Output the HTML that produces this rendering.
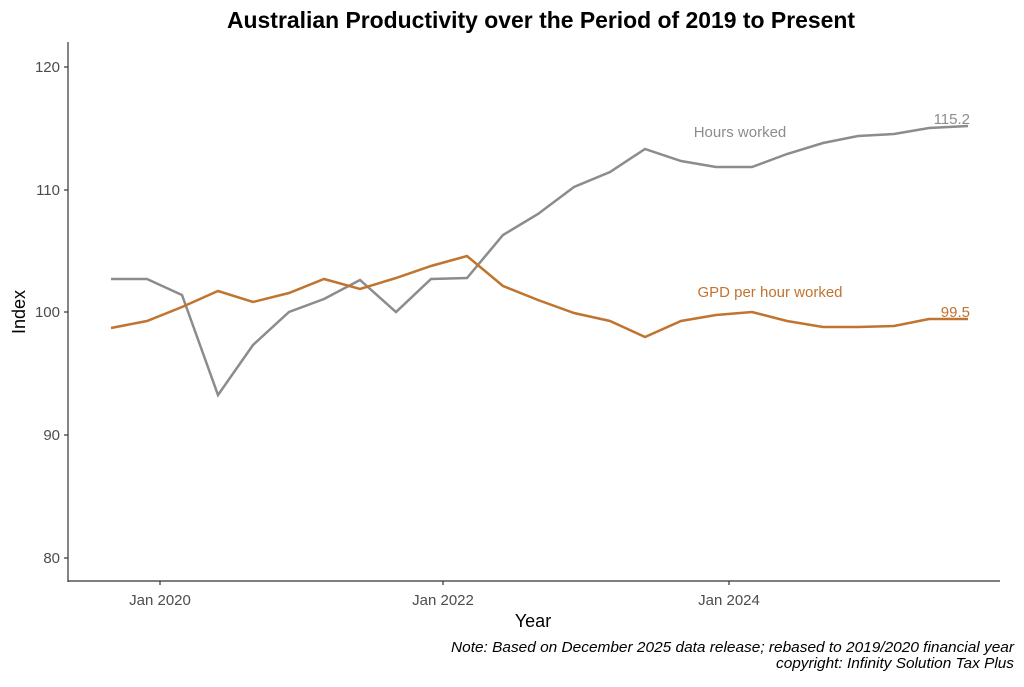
<!DOCTYPE html><html><head><style>body{margin:0;background:#fff}svg{font-family:"Liberation Sans",sans-serif}</style></head><body>
<svg width="1024" height="682" xmlns="http://www.w3.org/2000/svg">
<rect width="1024" height="682" fill="#fff"/>
<text x="541" y="28" text-anchor="middle" font-size="23" font-weight="bold" textLength="628" lengthAdjust="spacingAndGlyphs">Australian Productivity over the Period of 2019 to Present</text>
<line x1="68" y1="42" x2="68" y2="582" stroke="#333" stroke-width="1.2"/>
<line x1="67.5" y1="581" x2="1000" y2="581" stroke="#333" stroke-width="1.2"/>
<g stroke="#333" stroke-width="1.2">
<line x1="64" y1="67" x2="68" y2="67"/><line x1="64" y1="190" x2="68" y2="190"/><line x1="64" y1="312" x2="68" y2="312"/><line x1="64" y1="435" x2="68" y2="435"/><line x1="64" y1="558" x2="68" y2="558"/>
<line x1="160" y1="581" x2="160" y2="585"/><line x1="443" y1="581" x2="443" y2="585"/><line x1="729" y1="581" x2="729" y2="585"/>
</g>
<g font-size="15" fill="#4d4d4d" text-anchor="end">
<text x="60" y="72">120</text><text x="60" y="195">110</text><text x="60" y="317">100</text><text x="60" y="440">90</text><text x="60" y="563">80</text>
</g>
<g font-size="15" fill="#4d4d4d" text-anchor="middle">
<text x="160" y="605">Jan 2020</text><text x="443" y="605">Jan 2022</text><text x="729" y="605">Jan 2024</text>
</g>
<text x="533" y="627" text-anchor="middle" font-size="18">Year</text>
<text transform="translate(25,312) rotate(-90)" text-anchor="middle" font-size="18">Index</text>
<polyline fill="none" stroke="#8c8c8c" stroke-width="2.5" points="111,279 147,279 182,295 218,395 253,345 289,312 324,299 360,280 396,312 431,279 467,278 503,235 538,214 574,187 610,172 645,149 681,161 716,167 752,167 787,154 823,143 858,136 894,134 929,128 968,126"/>
<polyline fill="none" stroke="#c07430" stroke-width="2.5" points="111,328 147,321 182,307 218,291 253,302 289,293 324,279 360,289 396,278 431,266 467,256 503,286 538,300 574,313 610,321 645,337 681,321 716,315 752,312 787,321 823,327 858,327 894,326 929,319 968,319"/>
<text x="740" y="137" text-anchor="middle" font-size="15" fill="#8c8c8c">Hours worked</text>
<text x="770" y="297" text-anchor="middle" font-size="15" fill="#c07430">GPD per hour worked</text>
<text x="970" y="124" text-anchor="end" font-size="15" fill="#8c8c8c">115.2</text>
<text x="970" y="317" text-anchor="end" font-size="15" fill="#c07430">99.5</text>
<g font-size="15" font-style="italic" text-anchor="end">
<text x="1014" y="652" textLength="563" lengthAdjust="spacingAndGlyphs">Note: Based on December 2025 data release; rebased to 2019/2020 financial year</text>
<text x="1014" y="668" textLength="238" lengthAdjust="spacingAndGlyphs">copyright: Infinity Solution Tax Plus</text>
</g>
</svg></body></html>
